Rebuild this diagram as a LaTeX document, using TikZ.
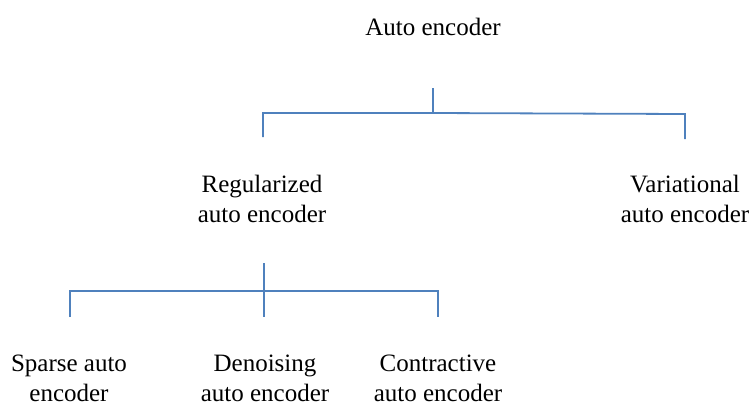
\documentclass[tikz,border=0pt]{standalone}
\usepackage{fontspec}
\setmainfont{Liberation Serif}
\definecolor{linecol}{RGB}{79,129,189}
\tikzset{
  lbl/.style={inner sep=0pt, align=center, anchor=base, font=\fontsize{25}{30}\selectfont},
  tree/.style={draw=linecol, line width=1.8pt}
}
\begin{document}
\begin{tikzpicture}[x=1pt,y=-1pt]
\useasboundingbox (0,0) rectangle (749,405);
% labels (base anchor = baseline of the last line)
\node[lbl] (ae) at (433,35) {Auto encoder};
\node[lbl] (reg) at (262,222) {Regularized\\auto encoder};
\node[lbl] (var) at (685,222) {Variational\\auto encoder};
\node[lbl] (spa) at (69,401) {Sparse auto\\encoder};
\node[lbl] (den) at (265,401) {Denoising\\auto encoder};
\node[lbl] (con) at (438,401) {Contractive\\auto encoder};
% junction coordinates, top tree
\coordinate (t0) at (433,88);
\coordinate (t1) at (433,113);
\coordinate (tl) at (263,113);
\coordinate (tlb) at (263,137);
\coordinate (tr) at (685,114);
\coordinate (trb) at (685,139);
% junction coordinates, bottom tree
\coordinate (b0) at (264,263);
\coordinate (b1) at (264,291);
\coordinate (bl) at (70,291);
\coordinate (blb) at (70,317);
\coordinate (bm) at (264,317);
\coordinate (br) at (438,291);
\coordinate (brb) at (438,317);
% connectors
\draw[tree] (t0) -- (t1);
\draw[tree] (tlb) -- (tl) -- (t1) -- (tr) -- (trb);
\draw[tree] (b0) -- (bm);
\draw[tree] (blb) -- (bl) -- (br) -- (brb);
\end{tikzpicture}
\end{document}
